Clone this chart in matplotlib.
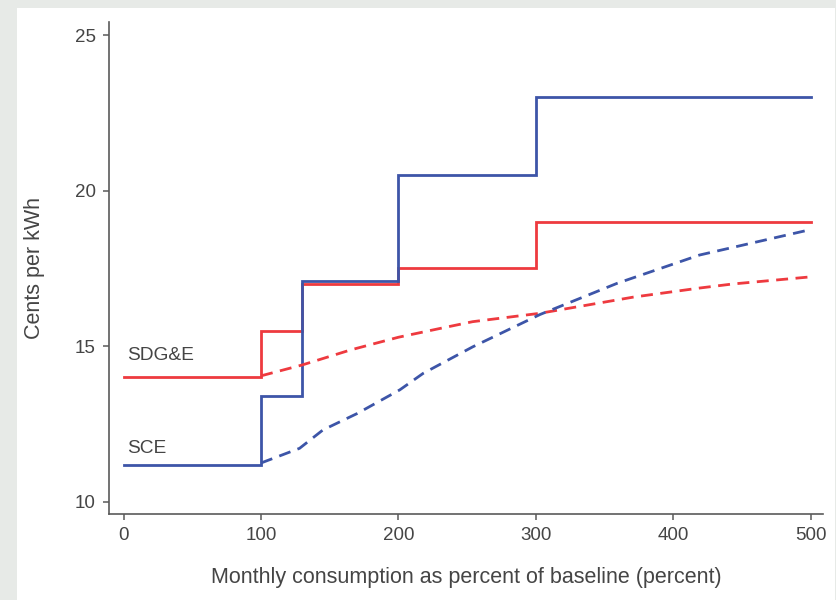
import matplotlib
matplotlib.use("Agg")
import matplotlib.pyplot as plt
from matplotlib.patches import Rectangle

# tiered rate schedules (cents per kWh) by percent of baseline
tier_edges = [0, 100, 130, 200, 300, 500]
sdge_rates = [14.0, 15.5, 17.0, 17.5, 19.0]
sce_rates = [11.2, 13.4, 17.1, 20.5, 23.0]

# average price curves
sdge_avg_x = [100, 130, 165, 200, 230, 254, 303, 371, 419, 443, 500]
sdge_avg = [14.05, 14.4, 14.88, 15.29, 15.57, 15.79, 16.06, 16.58, 16.87, 17.0, 17.23]
sce_avg_x = [100, 128, 145, 170, 201, 218, 254, 303, 359, 419, 500]
sce_avg = [11.25, 11.72, 12.31, 12.84, 13.6, 14.13, 14.98, 16.02, 17.02, 17.93, 18.75]

RED = "#ee3a3f"
BLUE = "#3d55a8"
GRAY = "#454545"

plt.rcParams["font.family"] = ["Liberation Sans", "DejaVu Sans"]

fig = plt.figure(figsize=(8.37, 6.0), dpi=100)
fig.patch.set_facecolor("#e7eae7")
fig.patches.append(Rectangle((17 / 837, 0), (835 - 17) / 837, 592 / 600,
                             transform=fig.transFigure, facecolor="white",
                             edgecolor="none", zorder=-10))

ax = fig.add_axes([109 / 837, (600 - 514.3) / 600, (823 - 109) / 837, (514.3 - 22) / 600])
ax.set_facecolor("none")


def step_xy(edges, rates):
    xs, ys = [], []
    for i, r in enumerate(rates):
        xs += [edges[i], edges[i + 1]]
        ys += [r, r]
    return xs, ys


lw = 2.0
x, y = step_xy(tier_edges, sdge_rates)
ax.plot(x, y, color=RED, lw=lw, solid_joinstyle="miter")
x, y = step_xy(tier_edges, sce_rates)
ax.plot(x, y, color=BLUE, lw=lw, solid_joinstyle="miter")
ax.plot(sdge_avg_x, sdge_avg, color=RED, lw=lw, dashes=(4.3, 2.7))
ax.plot(sce_avg_x, sce_avg, color=BLUE, lw=lw, dashes=(4.3, 2.7))

ax.text(2.4, 14.56, "SDG&E", color=GRAY, fontsize=13.8, ha="left", va="baseline")
ax.text(2.4, 11.57, "SCE", color=GRAY, fontsize=13.8, ha="left", va="baseline")

ax.set_xlim(-10.7, 509)
ax.set_ylim(9.6, 25.42)
ax.set_xticks([0, 100, 200, 300, 400, 500])
ax.set_yticks([10, 15, 20, 25])

for side in ("top", "right"):
    ax.spines[side].set_visible(False)
for side in ("left", "bottom"):
    ax.spines[side].set_color("#5a5a5a")
    ax.spines[side].set_linewidth(1.2)

ax.tick_params(axis="both", direction="out", length=4.5, width=1.1, color="#5a5a5a",
               labelcolor=GRAY, labelsize=13.5)
ax.tick_params(axis="y", pad=5)
ax.tick_params(axis="x", pad=5)

ax.set_xlabel("Monthly consumption as percent of baseline (percent)", fontsize=15.5, color=GRAY)
ax.set_ylabel("Cents per kWh", fontsize=15.5, color=GRAY)
ax.xaxis.set_label_coords(0.5, -0.107)
ax.yaxis.set_label_coords(-0.089, 0.5)

fig.savefig("out.png", dpi=100, facecolor=fig.get_facecolor())
